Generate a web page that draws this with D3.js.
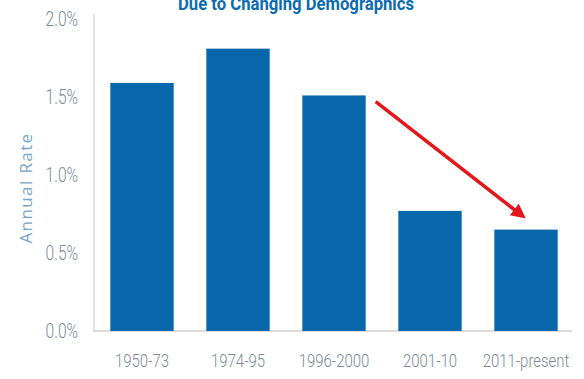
<!DOCTYPE html>
<html>
<head>
<meta charset="utf-8">
<script src="https://cdn.jsdelivr.net/npm/d3@7"></script>
<style>
  html, body { margin: 0; padding: 0; background: #fff; }
  svg { display: block; }
</style>
</head>
<body>
<svg id="chart" width="584" height="379"></svg>
<script>
// Annual rate by period
const periods = ["1950-73", "1974-95", "1996-2000", "2001-10", "2011-present"];
const rates = [1.59, 1.81, 1.51, 0.77, 0.65];
const yTicks = [0, 0.5, 1.0, 1.5, 2.0];
const titleText = "Due to Changing Demographics";
const yTitle = "Annual Rate";
// trend arrow: from the 1996-2000 period down to 2011-present
const arrowFrom = { period: "1996-2000", rate: 1.47 };
const arrowTo = { period: "2011-present", rate: 0.75 };

const svg = d3.select("#chart");

const x = d3.scaleBand()
  .domain(periods)
  .range([94, 574])
  .paddingInner(0.34)
  .paddingOuter(0.17);

const y = d3.scaleLinear().domain([0, 2.0]).range([331, 19]);

const barColor = "#0866aa";
const tickColor = "#7b8b9a";

// narrow the tick glyphs horizontally to get a condensed face
function condense(sel, factor) {
  sel.each(function () {
    const len = this.getComputedTextLength();
    d3.select(this)
      .attr("textLength", len * factor)
      .attr("lengthAdjust", "spacingAndGlyphs");
  });
}

// axis lines
svg.append("line")
  .attr("x1", 94).attr("x2", 94)
  .attr("y1", 14).attr("y2", y(0))
  .attr("stroke", "#d2d2d2").attr("stroke-width", 1.2);
svg.append("line")
  .attr("x1", 93).attr("x2", 572)
  .attr("y1", y(0)).attr("y2", y(0))
  .attr("stroke", "#cfcfcf").attr("stroke-width", 1.5);

// bars
svg.append("g").selectAll("rect")
  .data(periods)
  .join("rect")
  .attr("x", d => x(d))
  .attr("width", x.bandwidth())
  .attr("y", (d, i) => y(rates[i]))
  .attr("height", (d, i) => y(0) - y(rates[i]))
  .attr("fill", barColor);

// y axis labels
const yAxis = d3.axisLeft(y)
  .tickValues(yTicks)
  .tickFormat(d => d3.format(".1f")(d) + "%")
  .tickSize(0)
  .tickPadding(0);
const gy = svg.append("g").attr("transform", "translate(78,0)").call(yAxis);
gy.select(".domain").remove();
gy.selectAll("text")
  .attr("fill", tickColor)
  .attr("font-family", "Roboto, sans-serif")
  .attr("font-weight", 300)
  .attr("font-size", 21)
  .attr("dy", "0.3em")
  .call(condense, 0.74);

// x axis labels
const xAxis = d3.axisBottom(x).tickSize(0).tickPadding(0);
const gx = svg.append("g").attr("transform", "translate(0,367)").call(xAxis);
gx.select(".domain").remove();
gx.selectAll("text")
  .attr("fill", tickColor)
  .attr("font-family", "Roboto, sans-serif")
  .attr("font-weight", 300)
  .attr("font-size", 18)
  .attr("dy", 0)
  .call(condense, 0.83);

// y axis title
svg.append("text")
  .attr("transform", "translate(32,188) rotate(-90)")
  .attr("text-anchor", "middle")
  .attr("fill", "#78a6c6")
  .attr("font-family", "'Open Sans', sans-serif")
  .attr("font-size", 17)
  .attr("letter-spacing", 1.4)
  .text(yTitle);

// title
svg.append("text")
  .attr("x", 296)
  .attr("y", 10)
  .attr("text-anchor", "middle")
  .attr("fill", "#0b6bb0")
  .attr("font-family", "Roboto, sans-serif")
  .attr("font-weight", 700)
  .attr("font-size", 18)
  .attr("textLength", 236)
  .attr("lengthAdjust", "spacingAndGlyphs")
  .text(titleText);

// trend arrow
const defs = svg.append("defs");
defs.append("marker")
  .attr("id", "arrowhead")
  .attr("viewBox", "0 0 10 10")
  .attr("refX", 5).attr("refY", 5)
  .attr("markerWidth", 4.2).attr("markerHeight", 4.2)
  .attr("orient", "auto")
  .append("path")
  .attr("d", "M0,0 L10,5 L0,10 Z")
  .attr("fill", "#e3161b");

const ax1 = x(arrowFrom.period) + x.bandwidth() + 10;
const ay1 = y(arrowFrom.rate);
const ax2 = x(arrowTo.period) + x.bandwidth() / 2 - 6;
const ay2 = y(arrowTo.rate);
svg.append("line")
  .attr("x1", ax1).attr("y1", ay1)
  .attr("x2", ax2).attr("y2", ay2)
  .attr("stroke", "#e3161b")
  .attr("stroke-width", 3.5)
  .attr("marker-end", "url(#arrowhead)");
</script>
</body>
</html>
